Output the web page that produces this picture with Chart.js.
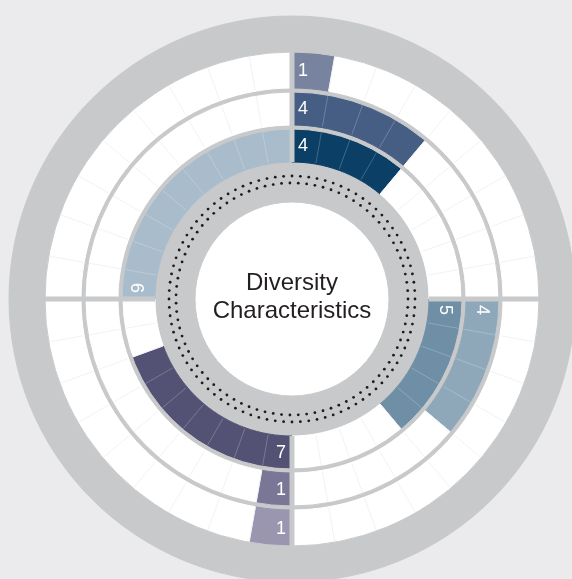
<!DOCTYPE html>
<html>
<head>
<meta charset="utf-8">
<script src="https://cdn.jsdelivr.net/npm/chart.js@4/dist/chart.umd.min.js"></script>
<style>
  html, body { margin: 0; padding: 0; background: #ebebed; overflow: hidden; }
  #wrap { position: absolute; left: 0; top: 0; width: 584px; height: 598px; }
</style>
</head>
<body>
<div id="wrap"><canvas id="myChart"></canvas></div>
<script>
// quadrants clockwise from 12 o'clock, 9 slots of 10 degrees each
const quadrants = ['top right', 'bottom right', 'bottom left', 'top left'];
const slotsPerQuadrant = 9;

// values per ring, one per quadrant
const innerValues  = [4, 5, 7, 9];
const middleValues = [4, 4, 1, 0];
const outerValues  = [1, 0, 1, 0];

const innerColors  = ['#0b3f66', '#6e8fa5', '#545274', '#a8bccb'];
const middleColors = ['#465e84', '#8ea8ba', '#7a7696', '#b9c6d2'];
const outerColors  = ['#77839f', '#a9bac6', '#9a96b0', '#c9d3dc'];

const centerText = ['Diversity', 'Characteristics'];

const gray = '#c8c9cb';
const blank = '#ffffff';

// one dataset per ring, 36 equal slots; first N slots of each quadrant get the colour
function ring(values, colors, weight) {
  const fills = [];
  quadrants.forEach((q, i) => {
    for (let s = 0; s < slotsPerQuadrant; s++) {
      fills.push(s < values[i] ? colors[i] : blank);
    }
  });
  return {
    data: fills.map(() => 1),
    backgroundColor: fills,
    borderColor: fills,
    borderWidth: 1,
    weight: weight,
    values: values,
    isRing: true
  };
}

function band(color, weight) {
  return { data: [1], backgroundColor: [color], borderColor: [color], borderWidth: 1, weight: weight };
}

const labels = [];
quadrants.forEach(q => { for (let s = 0; s < slotsPerQuadrant; s++) labels.push(q + ' ' + (s + 1)); });

// outermost dataset first
const datasets = [
  band(gray, 36),
  ring(outerValues, outerColors, 36),
  band(gray, 4),
  ring(middleValues, middleColors, 33),
  band(gray, 4),
  ring(innerValues, innerColors, 33),
  band(gray, 40),
  band('#ffffff', 97)
];

const decorations = {
  id: 'decorations',
  afterDatasetsDraw(chart) {
    const ctx = chart.ctx;
    const metas = chart.data.datasets.map((d, i) => chart.getDatasetMeta(i));
    const first = metas[0].data[0];
    const cx = first.x, cy = first.y;

    // thin slot divider lines
    chart.data.datasets.forEach((ds, i) => {
      if (!ds.isRing) return;
      metas[i].data.forEach((arc, j) => {
        if (j % slotsPerQuadrant === 0) return;
        const filled = ds.backgroundColor[j] !== blank;
        const a = arc.startAngle;
        ctx.save();
        ctx.strokeStyle = filled ? 'rgba(255,255,255,0.3)' : '#ededf0';
        ctx.lineWidth = 0.7;
        ctx.beginPath();
        ctx.moveTo(cx + Math.cos(a) * (arc.innerRadius + 1), cy + Math.sin(a) * (arc.innerRadius + 1));
        ctx.lineTo(cx + Math.cos(a) * (arc.outerRadius - 1), cy + Math.sin(a) * (arc.outerRadius - 1));
        ctx.stroke();
        ctx.restore();
      });
    });

    // quadrant dividers
    const rIn = metas[5].data[0].innerRadius;
    const rOut = metas[1].data[0].outerRadius;
    ctx.save();
    ctx.strokeStyle = gray;
    ctx.lineWidth = 5;
    for (let k = 0; k < 4; k++) {
      const a = -Math.PI / 2 + k * Math.PI / 2;
      ctx.beginPath();
      ctx.moveTo(cx + Math.cos(a) * rIn, cy + Math.sin(a) * rIn);
      ctx.lineTo(cx + Math.cos(a) * (rOut + 2), cy + Math.sin(a) * (rOut + 2));
      ctx.stroke();
    }
    ctx.restore();

    // dotted circles in the inner grey band
    const grayArc = metas[6].data[0];
    [19, 26].forEach(off => {
      const r = grayArc.innerRadius + off;
      const n = Math.round(2 * Math.PI * r / 8.4);
      ctx.save();
      ctx.fillStyle = '#1e1b1c';
      for (let k = 0; k < n; k++) {
        const a = k * 2 * Math.PI / n;
        ctx.beginPath();
        ctx.arc(cx + Math.cos(a) * r, cy + Math.sin(a) * r, 1.4, 0, 2 * Math.PI);
        ctx.fill();
      }
      ctx.restore();
    });

    // value labels at the start of each bar
    ctx.save();
    ctx.fillStyle = '#ffffff';
    ctx.font = '18px "Liberation Sans", Helvetica, Arial, sans-serif';
    ctx.textBaseline = 'middle';
    chart.data.datasets.forEach((ds, i) => {
      if (!ds.isRing) return;
      ds.values.forEach((v, q) => {
        if (!v) return;
        const arc = metas[i].data[q * slotsPerQuadrant];
        const midR = (arc.innerRadius + arc.outerRadius) / 2;
        let rot = arc.startAngle + Math.PI / 2;
        ctx.save();
        ctx.translate(cx, cy);
        if (Math.abs(((rot % (2 * Math.PI)) + 2 * Math.PI) % (2 * Math.PI) - Math.PI) < 0.01) {
          ctx.textAlign = 'right';
          ctx.fillText(String(v), -6, midR + 1);
        } else {
          ctx.rotate(rot);
          ctx.textAlign = 'left';
          ctx.fillText(String(v), 6, -midR + 1);
        }
        ctx.restore();
      });
    });
    ctx.restore();

    // centre title
    ctx.save();
    ctx.fillStyle = '#231f20';
    ctx.font = '24px "Liberation Sans", Helvetica, Arial, sans-serif';
    ctx.textAlign = 'center';
    ctx.textBaseline = 'alphabetic';
    ctx.fillText(centerText[0], cx, cy - 9);
    ctx.fillText(centerText[1], cx, cy + 19);
    ctx.restore();
  }
};

var myChart = new Chart(document.getElementById('myChart'), {
  type: 'doughnut',
  data: { labels: labels, datasets: datasets },
  options: {
    responsive: true,
    maintainAspectRatio: false,
    animation: false,
    events: [],
    cutout: 0,
    radius: 283,
    layout: { padding: 0 },
    plugins: {
      legend: { display: false },
      tooltip: { enabled: false }
    }
  },
  plugins: [decorations]
});
</script>
</body>
</html>
